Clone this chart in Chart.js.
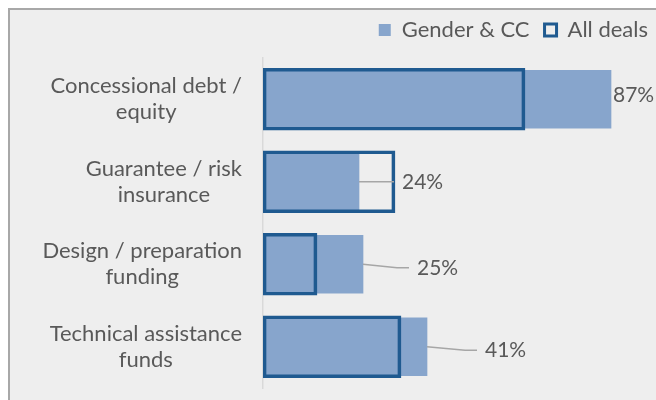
<!DOCTYPE html>
<html>
<head>
<meta charset="utf-8">
<script src="https://cdn.jsdelivr.net/npm/chart.js@4.4.1/dist/chart.umd.min.js"></script>
<style>
html,body{margin:0;padding:0;background:#fff;overflow:hidden}
#wrap{width:656px;height:400px;position:relative}
</style>
</head>
<body>
<div id="wrap"><canvas id="c" width="656" height="400"></canvas></div>
<script>
// ---- data ----
const categories = [
  ["Concessional debt /", "equity"],
  ["Guarantee / risk", "insurance"],
  ["Design / preparation", "funding"],
  ["Technical assistance", "funds"]
];
const seriesNames = ["Gender & CC", "All deals"];
const genderCC = [87, 24, 25, 41];
const allDeals = [65.5, 33, 13.5, 34.5];

// ---- label placement (px, relative to end of Gender & CC bar) ----
const labelDx = [2, 43, 54, 58];
const labelDy = [-4, 0, 3.5, 3.5];

const FONT = 'Lato, "Open Sans", sans-serif';
const TEXT = '#595959';

const bgPlugin = {
  id: 'bg',
  beforeDraw(chart) {
    const ctx = chart.ctx;
    ctx.save();
    ctx.fillStyle = '#ffffff';
    ctx.fillRect(0, 0, chart.width, chart.height);
    ctx.fillStyle = '#EEEEEE';
    ctx.fillRect(8, 8, chart.width, chart.height);
    ctx.strokeStyle = '#A8A8A8';
    ctx.lineWidth = 2;
    ctx.beginPath();
    ctx.moveTo(9, chart.height);
    ctx.lineTo(9, 9);
    ctx.lineTo(chart.width, 9);
    ctx.stroke();
    ctx.restore();
  }
};

const catLabelPlugin = {
  id: 'catLabels',
  afterDraw(chart) {
    const ctx = chart.ctx;
    const ys = chart.scales.y;
    const right = ys.right - 21;
    const lineH = 26;
    ctx.save();
    ctx.font = '22px ' + FONT;
    ctx.fillStyle = TEXT;
    ctx.textAlign = 'center';
    ctx.textBaseline = 'middle';
    categories.forEach((lines, i) => {
      const cy = ys.getPixelForValue(i);
      const w = Math.max(...lines.map(l => ctx.measureText(l).width));
      const cx = right - w / 2;
      lines.forEach((l, j) => {
        ctx.fillText(l, cx, cy + (j - (lines.length - 1) / 2) * lineH);
      });
    });
    ctx.restore();
  }
};

const valueLabelPlugin = {
  id: 'valueLabels',
  afterDatasetsDraw(chart) {
    const ctx = chart.ctx;
    const meta = chart.getDatasetMeta(0);
    ctx.save();
    meta.data.forEach((bar, i) => {
      const x0 = bar.x, cy = bar.y;
      const lx = x0 + labelDx[i], ly = cy + labelDy[i];
      if (labelDx[i] > 20) {
        ctx.strokeStyle = '#A6A6A6';
        ctx.lineWidth = 1.5;
        ctx.beginPath();
        ctx.moveTo(x0, cy);
        ctx.lineTo(lx - 20, ly);
        ctx.lineTo(lx - 8, ly);
        ctx.stroke();
      }
      ctx.font = '21px ' + FONT;
      ctx.fillStyle = TEXT;
      ctx.textAlign = 'left';
      ctx.textBaseline = 'middle';
      ctx.fillText(genderCC[i] + '%', lx, ly);
    });
    ctx.restore();
  }
};

function draw() {
  new Chart(document.getElementById('c'), {
    type: 'bar',
    data: {
      labels: categories,
      datasets: [
        {
          label: seriesNames[0],
          data: genderCC,
          backgroundColor: '#87A5CC',
          borderWidth: 0,
          maxBarThickness: 58,
          order: 2
        },
        {
          label: seriesNames[1],
          data: allDeals,
          backgroundColor: 'rgba(0,0,0,0)',
          borderColor: '#1F5A90',
          borderWidth: 3,
          borderSkipped: false,
          maxBarThickness: 62,
          order: 1
        }
      ]
    },
    options: {
      indexAxis: 'y',
      responsive: false,
      animation: false,
      devicePixelRatio: 1,
      layout: { padding: { top: 4, right: -7, bottom: 12, left: 0 } },
      datasets: { bar: { grouped: false, barPercentage: 1, categoryPercentage: 1 } },
      scales: {
        x: {
          position: 'top',
          min: 0, max: 98.25,
          grid: { display: false },
          border: { display: false },
          ticks: { display: false },
          afterFit(s) { s.height = 7; }
        },
        y: {
          grid: { display: false },
          border: { display: true, color: '#D9D9D9', width: 1.5 },
          ticks: { display: false },
          afterFit(s) { s.width = 263; }
        }
      },
      plugins: {
        legend: {
          position: 'top',
          align: 'end',
          labels: {
            font: { family: FONT, size: 22 },
            color: TEXT,
            boxWidth: 12,
            boxHeight: 12,
            padding: 15,
            sort: (a, b) => a.datasetIndex - b.datasetIndex
          }
        },
        tooltip: { enabled: false }
      }
    },
    plugins: [bgPlugin, catLabelPlugin, valueLabelPlugin]
  });
}

if (document.fonts && document.fonts.load) {
  document.fonts.load('22px Lato').then(draw, draw);
} else {
  draw();
}
</script>
</body>
</html>
